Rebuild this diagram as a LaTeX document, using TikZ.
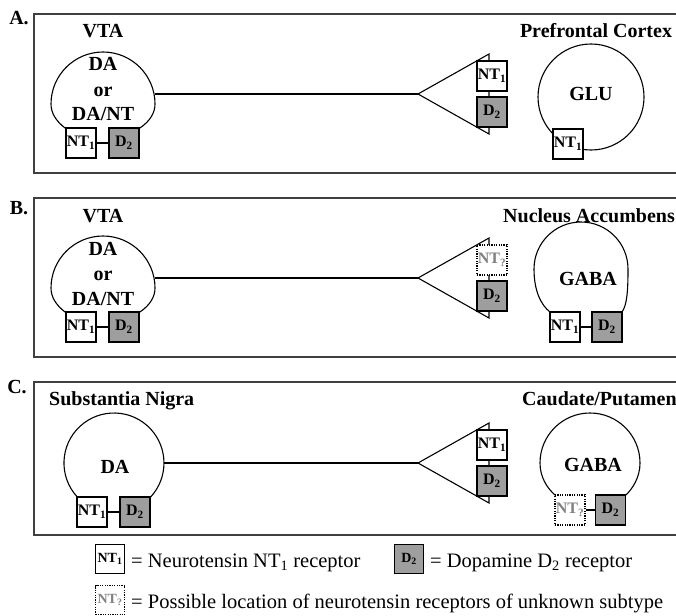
\documentclass[tikz,border=0pt]{standalone}
\usepackage{fontspec}
\setmainfont{Liberation Serif}
\definecolor{dtwo}{gray}{0.62}
\definecolor{framec}{gray}{0.25}
\definecolor{qtext}{gray}{0.5}
\tikzset{
  lbl/.style={font=\fontsize{20}{24}\selectfont\bfseries, inner sep=0pt},
  rbox/.style={draw, line width=1.1pt, fill=white, minimum width=30pt, minimum height=30pt, inner sep=0pt, font=\fontsize{16}{16}\selectfont\bfseries},
  dbox/.style={rbox, fill=dtwo},
  qbox/.style={rbox, dash pattern=on 1.2pt off 1.2pt, text=qtext},
  lgsize/.style={minimum width=29pt, minimum height=29pt, font=\fontsize{14}{14}\selectfont\bfseries},
  soma/.style={line width=1.1pt},
  panel/.style={draw=framec, line width=1.5pt},
  legtxt/.style={font=\fontsize{20.5}{24}\selectfont, inner sep=0pt, anchor=base west},
}
\begin{document}
\begin{tikzpicture}[x=1pt,y=1pt]
\useasboundingbox (0,0) rectangle (676,-615);
% ---------------- Panel A
\draw[panel] (700,-14) -- (34,-14) -- (34,-173) -- (700,-173);
\node[lbl, anchor=base] (labA) at (19,-25) {A.};
\node[lbl, anchor=base] (vtaA) at (103,-38) {VTA};
\draw[soma] (65,-128) .. controls (56,-121) and (51,-113) .. (51,-104) arc[start angle=180,end angle=0,radius=52] .. controls (155,-113) and (150,-121) .. (140,-128);
\node[lbl, anchor=base] (daA) at (103,-71) {DA};
\node[lbl, anchor=base] (orA) at (103,-96) {or};
\node[lbl, anchor=base] (dntA) at (103,-121) {DA/NT};
\node[rbox] (a1) at (81,-143) {NT\textsubscript{1}};
\node[dbox] (a2) at (124,-143) {D\textsubscript{2}};
\draw[soma] (a1) -- (a2);
\coordinate (axA) at (154.5,-94);
\coordinate (tipA) at (418,-94);
\coordinate (topA) at (489,-54);
\coordinate (botA) at (489,-134);
\draw[soma] (axA) -- (tipA);
\draw[soma] (tipA) -- (topA) -- (botA) -- cycle;
\node[rbox] (a3) at (492,-76) {NT\textsubscript{1}};
\node[dbox] (a4) at (492,-112) {D\textsubscript{2}};
\node[lbl, anchor=base] (pfc) at (596,-38) {Prefrontal Cortex};
\draw[soma] (591,-97) circle[radius=53];
\node[rbox] (a5) at (568,-144) {NT\textsubscript{1}};
\node[lbl, anchor=base] (glu) at (591,-100) {GLU};
% ---------------- Panel B
\draw[panel] (700,-198) -- (34,-198) -- (34,-357) -- (700,-357);
\node[lbl, anchor=base] (labB) at (19,-214) {B.};
\node[lbl, anchor=base] (vtaB) at (103,-222) {VTA};
\draw[soma] (65,-312) .. controls (56,-305) and (51,-297) .. (51,-288) arc[start angle=180,end angle=0,radius=52] .. controls (155,-297) and (150,-305) .. (140,-312);
\node[lbl, anchor=base] (daB) at (103,-255) {DA};
\node[lbl, anchor=base] (orB) at (103,-280) {or};
\node[lbl, anchor=base] (dntB) at (103,-305) {DA/NT};
\node[rbox] (b1) at (81,-327) {NT\textsubscript{1}};
\node[dbox] (b2) at (124,-327) {D\textsubscript{2}};
\draw[soma] (b1) -- (b2);
\coordinate (axB) at (154.5,-278);
\coordinate (tipB) at (418,-278);
\coordinate (topB) at (489,-238);
\coordinate (botB) at (489,-318);
\draw[soma] (axB) -- (tipB);
\draw[soma] (tipB) -- (topB) -- (botB) -- cycle;
\node[qbox] (b3) at (492,-260) {NT\textsubscript{?}};
\node[dbox] (b4) at (492,-296) {D\textsubscript{2}};
\node[lbl, anchor=base west] (nac) at (503,-222) {Nucleus Accumbens};
\draw[soma] (550,-312) .. controls (541,-305) and (534,-291) .. (534,-269) arc[start angle=180,end angle=0,radius=47] .. controls (628,-291) and (627,-305) .. (622,-312);
\node[rbox] (b5) at (565,-327) {NT\textsubscript{1}};
\node[dbox] (b6) at (607,-327) {D\textsubscript{2}};
\draw[soma] (b5) -- (b6);
\node[lbl, anchor=base] (gabaB) at (588,-285) {GABA};
% ---------------- Panel C
\draw[panel] (700,-382) -- (34,-382) -- (34,-535) -- (700,-535);
\node[lbl, anchor=base] (labC) at (17,-393) {C.};
\node[lbl, anchor=base west] (sn) at (49,-405) {Substantia Nigra};
\draw[soma] (77.4,-497.1) arc[start angle=223,end angle=-43,radius=50];
\node[lbl, anchor=base] (daC) at (115,-473) {DA};
\node[rbox] (c1) at (92,-512) {NT\textsubscript{1}};
\node[dbox] (c2) at (135,-512) {D\textsubscript{2}};
\draw[soma] (c1) -- (c2);
\coordinate (axC) at (164,-463);
\coordinate (tipC) at (418,-463);
\coordinate (topC) at (489,-423);
\coordinate (botC) at (489,-503);
\draw[soma] (axC) -- (tipC);
\draw[soma] (tipC) -- (topC) -- (botC) -- cycle;
\node[rbox] (c3) at (492,-445) {NT\textsubscript{1}};
\node[dbox] (c4) at (492,-481) {D\textsubscript{2}};
\node[lbl, anchor=base west] (cp) at (522,-405) {Caudate/Putamen};
\draw[soma] (555,-495) .. controls (547,-488) and (540,-477) .. (540,-463) arc[start angle=180,end angle=0,radius=50] .. controls (640,-477) and (633,-488) .. (626,-495);
\node[qbox] (c5) at (570,-510) {NT\textsubscript{?}};
\node[dbox] (c6) at (610.5,-510) {D\textsubscript{2}};
\draw[soma] (c5) -- (c6);
\node[lbl, anchor=base] (gabaC) at (593,-471) {GABA};
% ---------------- Legend
\node[rbox, lgsize] (l1) at (110,-559) {NT\textsubscript{1}};
\node[legtxt] (t1) at (131,-567) {= Neurotensin NT\textsubscript{1} receptor};
\node[dbox, lgsize] (l2) at (409,-559) {D\textsubscript{2}};
\node[legtxt] (t2) at (430,-567) {= Dopamine D\textsubscript{2} receptor};
\node[qbox, lgsize] (l3) at (110,-600) {NT\textsubscript{?}};
\node[legtxt] (t3) at (131,-608) {= Possible location of neurotensin receptors of unknown subtype};
\end{tikzpicture}
\end{document}
